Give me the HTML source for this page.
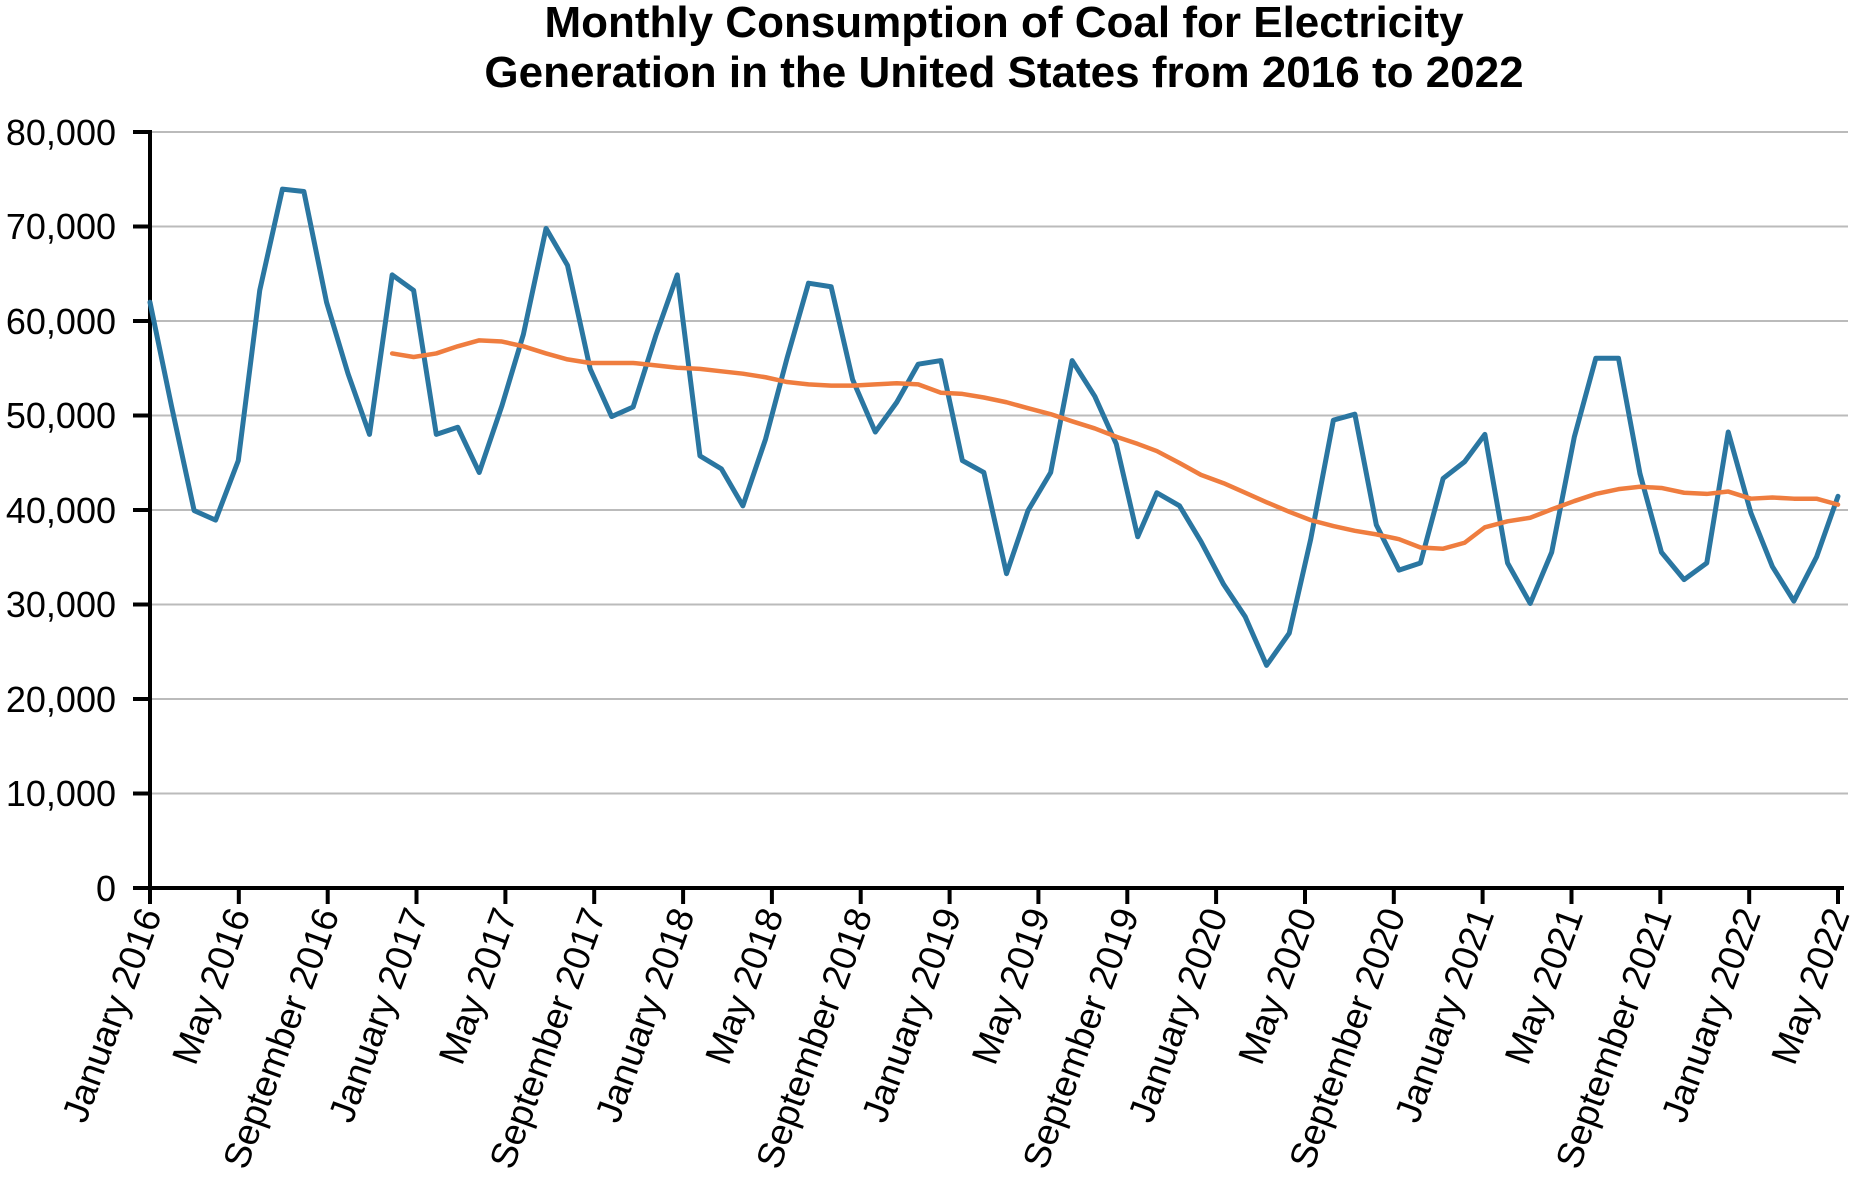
<!DOCTYPE html>
<html><head><meta charset="utf-8"><style>
html,body{margin:0;padding:0;background:#fff;}
svg{display:block;font-family:"Liberation Sans",sans-serif;}
</style></head><body>
<svg width="1868" height="1199" viewBox="0 0 1868 1199" xmlns="http://www.w3.org/2000/svg">
<g font-weight="bold" font-size="44" text-anchor="middle" fill="#000">
<text x="1004" y="37">Monthly Consumption of Coal for Electricity</text>
<text x="1004" y="87">Generation in the United States from 2016 to 2022</text>
</g>
<g stroke="#bbb" stroke-width="2">
<line x1="150" y1="132" x2="1848" y2="132"/>
<line x1="150" y1="226.5" x2="1848" y2="226.5"/>
<line x1="150" y1="321" x2="1848" y2="321"/>
<line x1="150" y1="415.5" x2="1848" y2="415.5"/>
<line x1="150" y1="510" x2="1848" y2="510"/>
<line x1="150" y1="604.5" x2="1848" y2="604.5"/>
<line x1="150" y1="699" x2="1848" y2="699"/>
<line x1="150" y1="793.5" x2="1848" y2="793.5"/>
</g>
<g font-size="36" text-anchor="end" fill="#000">
<text x="116" y="145">80,000</text>
<text x="116" y="239">70,000</text>
<text x="116" y="334">60,000</text>
<text x="116" y="428">50,000</text>
<text x="116" y="523">40,000</text>
<text x="116" y="617">30,000</text>
<text x="116" y="712">20,000</text>
<text x="116" y="806">10,000</text>
<text x="116" y="901">0</text>
</g>
<g stroke="#000" stroke-width="4">
<line x1="150" y1="130" x2="150" y2="890"/>
<line x1="148" y1="888" x2="1844" y2="888"/>
<line x1="133" y1="132" x2="150" y2="132"/>
<line x1="133" y1="226.5" x2="150" y2="226.5"/>
<line x1="133" y1="321" x2="150" y2="321"/>
<line x1="133" y1="415.5" x2="150" y2="415.5"/>
<line x1="133" y1="510" x2="150" y2="510"/>
<line x1="133" y1="604.5" x2="150" y2="604.5"/>
<line x1="133" y1="699" x2="150" y2="699"/>
<line x1="133" y1="793.5" x2="150" y2="793.5"/>
<line x1="133" y1="888" x2="150" y2="888"/>
<line x1="150" y1="888" x2="150" y2="904"/>
<line x1="238.8" y1="888" x2="238.8" y2="904"/>
<line x1="327.7" y1="888" x2="327.7" y2="904"/>
<line x1="416.5" y1="888" x2="416.5" y2="904"/>
<line x1="505.4" y1="888" x2="505.4" y2="904"/>
<line x1="594.2" y1="888" x2="594.2" y2="904"/>
<line x1="683.1" y1="888" x2="683.1" y2="904"/>
<line x1="771.9" y1="888" x2="771.9" y2="904"/>
<line x1="860.7" y1="888" x2="860.7" y2="904"/>
<line x1="949.6" y1="888" x2="949.6" y2="904"/>
<line x1="1038.4" y1="888" x2="1038.4" y2="904"/>
<line x1="1127.3" y1="888" x2="1127.3" y2="904"/>
<line x1="1216.1" y1="888" x2="1216.1" y2="904"/>
<line x1="1305" y1="888" x2="1305" y2="904"/>
<line x1="1393.8" y1="888" x2="1393.8" y2="904"/>
<line x1="1482.6" y1="888" x2="1482.6" y2="904"/>
<line x1="1571.5" y1="888" x2="1571.5" y2="904"/>
<line x1="1660.3" y1="888" x2="1660.3" y2="904"/>
<line x1="1749.2" y1="888" x2="1749.2" y2="904"/>
<line x1="1838" y1="888" x2="1838" y2="904"/>
</g>
<g font-size="37" text-anchor="end" fill="#000">
<text transform="translate(162,914) rotate(-70)">January 2016</text>
<text transform="translate(250.8,914) rotate(-70)">May 2016</text>
<text transform="translate(339.7,914) rotate(-70)">September 2016</text>
<text transform="translate(428.5,914) rotate(-70)">January 2017</text>
<text transform="translate(517.4,914) rotate(-70)">May 2017</text>
<text transform="translate(606.2,914) rotate(-70)">September 2017</text>
<text transform="translate(695.1,914) rotate(-70)">January 2018</text>
<text transform="translate(783.9,914) rotate(-70)">May 2018</text>
<text transform="translate(872.7,914) rotate(-70)">September 2018</text>
<text transform="translate(961.6,914) rotate(-70)">January 2019</text>
<text transform="translate(1050.4,914) rotate(-70)">May 2019</text>
<text transform="translate(1139.3,914) rotate(-70)">September 2019</text>
<text transform="translate(1228.1,914) rotate(-70)">January 2020</text>
<text transform="translate(1317,914) rotate(-70)">May 2020</text>
<text transform="translate(1405.8,914) rotate(-70)">September 2020</text>
<text transform="translate(1494.6,914) rotate(-70)">January 2021</text>
<text transform="translate(1583.5,914) rotate(-70)">May 2021</text>
<text transform="translate(1672.3,914) rotate(-70)">September 2021</text>
<text transform="translate(1761.2,914) rotate(-70)">January 2022</text>
<text transform="translate(1850,914) rotate(-70)">May 2022</text>
</g>
<g transform="translate(0.88,1.04) scale(1.19293,1.19055)" fill="none" stroke-linejoin="round" stroke-linecap="round">
<polyline vector-effect="non-scaling-stroke" stroke="#2a76a1" stroke-width="5" points="125,253 143,340 162,428 180,436 199,386 217,243 236,158 254,160 273,253 291,313 309,364 328,230 346,243 365,364 383,358 401,396 420,340 438,280 457,191 475,222 494,309 512,349 530,341 549,281 567,230 586,382 604,393 622,424 641,368 659,300 677,237 696,240 714,318 733,362 751,337 769,305 788,302 806,386 824,396 843,481 861,428 880,396 898,302 917,332 935,372 953,450 969,413 988,424 1006,454 1025,490 1043,517 1061,558 1080,531 1098,452 1117,352 1135,347 1153,440 1172,478 1190,472 1209,401 1227,387 1244,364 1263,472 1282,506 1300,463 1319,366 1337,300 1356,300 1374,397 1392,463 1411,486 1430,472 1448,362 1467,430 1485,475 1503,504 1522,467 1540,416"/>
<polyline vector-effect="non-scaling-stroke" stroke="#ef7d3f" stroke-width="4.5" points="328,296 346,299 365,296 383,290 401,285 420,286 438,290 457,296 475,301 494,304 512,304 530,304 549,306 567,308 586,309 604,311 622,313 641,316 659,320 677,322 696,323 714,323 733,322 751,321 769,322 788,329 806,330 824,333 843,337 861,342 880,347 898,353 917,359 935,366 953,372 969,378 988,388 1006,398 1025,405 1043,413 1061,421 1080,429 1098,436 1117,441 1135,445 1153,448 1172,452 1190,459 1209,460 1227,455 1244,442 1263,437 1282,434 1300,427 1319,420 1337,414 1356,410 1374,408 1392,409 1411,413 1430,414 1448,412 1467,418 1485,417 1503,418 1522,418 1540,423"/>
</g>
</svg>
</body></html>
